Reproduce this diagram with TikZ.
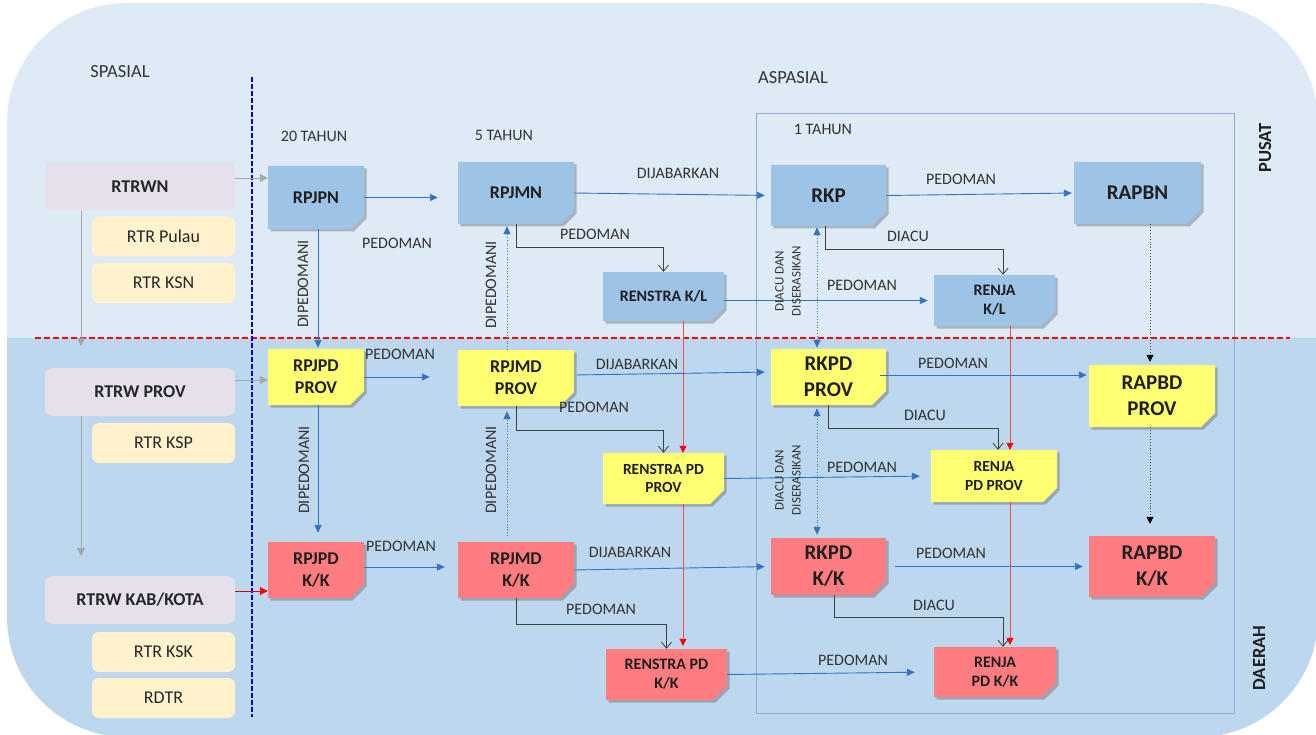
\documentclass[tikz,border=0pt]{standalone}
\usepackage{fontspec}
\setmainfont{Carlito}
\usetikzlibrary{arrows.meta,shapes.misc,shadows,calc}

\definecolor{bgtop}{HTML}{DEEBF7}
\definecolor{bgbot}{HTML}{BDD7EE}
\definecolor{boxblue}{HTML}{9DC3E6}
\definecolor{boxyel}{HTML}{FFFF71}
\definecolor{boxred}{HTML}{FF7C80}
\definecolor{lavc}{HTML}{E5E0EC}
\definecolor{creamc}{HTML}{FFF2CC}
\definecolor{arrblue}{HTML}{2F73C4}
\definecolor{arrgray}{HTML}{A6A6A6}
\definecolor{elbowc}{HTML}{404040}
\definecolor{framec}{HTML}{8EAADB}
\definecolor{txtgray}{HTML}{333333}
\definecolor{vdash}{HTML}{0000CC}

\newcommand\fntLbl{\fontsize{16}{19}\selectfont}
\newcommand\fntHead{\fontsize{18.5}{22}\selectfont}
\newcommand\fntSmall{\fontsize{13}{17}\selectfont}
\newcommand\fntBoxA{\fontsize{18}{22}\selectfont\bfseries}
\newcommand\fntBoxB{\fontsize{21}{26}\selectfont\bfseries}
\newcommand\fntBoxC{\fontsize{16}{19}\selectfont\bfseries}
\newcommand\fntBoxD{\fontsize{15.5}{18.5}\selectfont\bfseries}
\newcommand\fntLeft{\fontsize{18}{22}\selectfont}

\begin{document}
\begin{tikzpicture}[x=1pt,y=-1pt,
  lbl/.style={text=txtgray, font=\fntLbl, inner sep=0pt},
  head/.style={text=txtgray, font=\fntHead, inner sep=0pt},
  note/.style={chamfered rectangle, chamfered rectangle corners=south east,
    chamfered rectangle xsep=7pt, chamfered rectangle ysep=7pt,
    inner sep=0pt, align=center, text=black!88,
    drop shadow={shadow xshift=2.5pt, shadow yshift=-2.5pt, opacity=0.35, fill=black!70},
    path picture={\fill[black, opacity=.22]
      ([xshift=-7pt]path picture bounding box.south east) --
      ([yshift=7pt]path picture bounding box.south east) --
      ([xshift=-6pt, yshift=6pt]path picture bounding box.south east) -- cycle;}},
  bluebox/.style={note, fill=boxblue},
  yelbox/.style={note, fill=boxyel},
  redbox/.style={note, fill=boxred},
  leftbox/.style={rounded corners=7pt, inner sep=0pt, align=center, text=black!85},
  lavbox/.style={leftbox, fill=lavc, minimum width=190pt, minimum height=48pt, font=\fntBoxA},
  creambox/.style={leftbox, fill=creamc, minimum width=143pt, minimum height=40pt, font=\fntLeft},
  barr/.style={draw=arrblue, line width=0.9pt, -{Triangle[length=8pt,width=7pt]}},
  dbarr/.style={draw=arrblue, line width=0.8pt, dotted, -{Triangle[length=8pt,width=7pt]}},
  ddbarr/.style={draw=arrblue, line width=0.8pt, dotted, {Triangle[length=8pt,width=7pt]}-{Triangle[length=8pt,width=7pt]}},
  elbow/.style={draw=elbowc, line width=0.8pt, -{Straight Barb[length=6pt,width=10pt]}},
  rarr/.style={draw=red!70, line width=0.7pt, -{Triangle[length=7pt,width=7pt,color=red]}},
  garr/.style={draw=arrgray, line width=0.9pt, -{Triangle[length=8pt,width=8pt]}},
  rharr/.style={draw=red!85!black, line width=0.9pt, -{Triangle[length=8pt,width=8pt,color=red]}},
  karr/.style={draw=black!75, line width=0.9pt, dotted, -{Triangle[length=7pt,width=7pt,color=black]}}
]
\useasboundingbox (0,0) rectangle (1316,735);

% background
\begin{scope}
\clip[rounded corners=120pt] (7,3) rectangle (1318,737);
\fill[bgtop] (0,0) rectangle (1320,338);
\fill[bgbot] (0,338) rectangle (1320,740);
\end{scope}

% 1 TAHUN frame
\draw[framec, line width=0.8pt] (756,113) rectangle (1234,713);

% separators
\draw[red, line width=1.3pt, dash pattern=on 6pt off 3pt] (35,338) -- (1290,338);
\draw[vdash, line width=1.3pt, dash pattern=on 5pt off 2pt] (252,77) -- (252,717);

% headings
\node[head] (tspasial) at (120,72) {SPASIAL};
\node[head] (taspasial) at (793,78) {ASPASIAL};
\node[lbl] (t20) at (314,136) {20 TAHUN};
\node[lbl] (t5) at (504,135) {5 TAHUN};
\node[lbl] (t1) at (823,129) {1 TAHUN};
\node[head, font=\fntHead\bfseries, text=black!88, rotate=90] (tpusat) at (1265,148) {PUSAT};
\node[head, font=\fntHead\bfseries, text=black!88, rotate=90] (tdaerah) at (1259,658) {DAERAH};

% left column
\node[lavbox] (rtrwn) at (140,186.5) {RTRWN};
\node[creambox] (rtrpulau) at (163.5,236.5) {RTR Pulau};
\node[creambox] (rtrksn) at (163.5,283) {RTR KSN};
\node[lavbox] (rtrwprov) at (140,392) {RTRW PROV};
\node[creambox] (rtrksp) at (163.5,443) {RTR KSP};
\node[lavbox] (rtrwkab) at (140,600) {RTRW KAB/KOTA};
\node[creambox] (rtrksk) at (163.5,652) {RTR KSK};
\node[creambox] (rdtr) at (163.5,698) {RDTR};

% 20 tahun
\node[bluebox, minimum width=96pt, minimum height=63pt, font=\fntBoxA] (rpjpn) at (316,197.5) {RPJPN};
\node[yelbox, minimum width=96pt, minimum height=56pt, font=\fntBoxA] (rpjpdprov) at (316,377) {RPJPD\\PROV};
\node[redbox, minimum width=96pt, minimum height=56pt, font=\fntBoxA] (rpjpdkk) at (316,570) {RPJPD\\K/K};

% 5 tahun
\node[bluebox, minimum width=116pt, minimum height=62pt, font=\fntBoxA] (rpjmn) at (516,193) {RPJMN};
\node[yelbox, minimum width=116pt, minimum height=56pt, font=\fntBoxA] (rpjmdprov) at (516,378) {RPJMD\\PROV};
\node[redbox, minimum width=116pt, minimum height=56pt, font=\fntBoxA] (rpjmdkk) at (516,570) {RPJMD\\K/K};
\node[bluebox, minimum width=121pt, minimum height=49pt, font=\fntBoxC] (renkl) at (663.5,296.5) {RENSTRA K/L};
\node[yelbox, minimum width=121pt, minimum height=51pt, font=\fntBoxD] (renpdprov) at (663.5,478.5) {RENSTRA PD\\PROV};
\node[redbox, minimum width=121pt, minimum height=51pt, font=\fntBoxC] (renpdkk) at (666.5,674.5) {RENSTRA PD\\K/K};

% 1 tahun
\node[bluebox, minimum width=115pt, minimum height=61pt, font=\fntBoxB] (rkp) at (828.5,195.5) {RKP};
\node[yelbox, minimum width=115pt, minimum height=56pt, font=\fntBoxB] (rkpdprov) at (828.5,377) {RKPD\\PROV};
\node[redbox, minimum width=115pt, minimum height=57pt, font=\fntBoxB] (rkpdkk) at (828.5,566.5) {RKPD\\K/K};
\node[bluebox, minimum width=121pt, minimum height=51pt, font=\fntBoxC] (renjakl) at (994.5,300.5) {RENJA\\K/L};
\node[yelbox, minimum width=126pt, minimum height=52pt, font=\fntBoxD] (renjapdprov) at (994,476) {RENJA\\PD PROV};
\node[redbox, minimum width=122pt, minimum height=50pt, font=\fntBoxC] (renjapdkk) at (995,672) {RENJA\\PD K/K};
\node[bluebox, minimum width=127pt, minimum height=62pt, font=\fntBoxB] (rapbn) at (1137.5,193) {RAPBN};
\node[yelbox, minimum width=126pt, minimum height=62pt, font=\fntBoxB] (rapbdprov) at (1152,396) {RAPBD\\PROV};
\node[redbox, minimum width=126pt, minimum height=61pt, font=\fntBoxB] (rapbdkk) at (1152,566.5) {RAPBD\\K/K};

% helper coordinates
\coordinate (g1) at ($(rtrwn.east)+(0,-8.5)$);
\coordinate (g2) at ($(rtrwprov.east)+(0,-12)$);
\coordinate (g3) at ($(rtrwkab.east)+(0,-9)$);
\coordinate (gv1) at ($(rtrwn.south)+(-59,0)$);
\coordinate (gv2) at ($(rtrwprov.south)+(-59,0)$);
\coordinate (b1) at ($(rpjpn.south)+(2,0)$);
\coordinate (b2) at ($(rpjpdprov.south)+(2,0)$);
\coordinate (b3) at ($(rpjpdkk.east)+(0,-3)$);
\coordinate (b4) at ($(rkpdprov.east)+(0,-2)$);
\coordinate (b5) at ($(renkl.east)+(0,4)$);
\coordinate (d1) at ($(rpjmdprov.north)+(-9,0)$);
\coordinate (d2) at ($(rpjmdkk.north)+(-9,0)$);
\coordinate (d3) at ($(rkp.south)+(-11.5,0)$);
\coordinate (d4) at ($(rkpdprov.south)+(-11.5,0)$);
\coordinate (k1) at ($(rapbn.south)+(12.5,0)$);
\coordinate (k2) at ($(rapbdprov.south)+(-2,0)$);
\coordinate (r1) at ($(renkl.south)+(19.5,0)$);
\coordinate (r2) at ($(renpdprov.south)+(19.5,0)$);
\coordinate (r3) at ($(renjakl.south)+(15.5,0)$);
\coordinate (r4) at ($(renjapdprov.south)+(16,0)$);

% spatial connectors
\draw[garr] (g1) -- (g1 -| rpjpn.west);
\draw[garr] (g2) -- (g2 -| rpjpdprov.west);
\draw[rharr] (g3) -- (g3 -| rpjpdkk.west);
\draw[garr, shorten >=22pt] (gv1) -- (gv1 |- rtrwprov.north);
\draw[garr, shorten >=20pt] (gv2) -- (gv2 |- rtrwkab.north);

% vertical blue
\draw[barr, shorten >=1pt] (b1) -- (b1 |- rpjpdprov.north);
\draw[barr, shorten >=9pt] (b2) -- (b2 |- rpjpdkk.north);
\draw[dbarr, shorten >=2pt] (d1) -- (d1 |- rpjmn.south);
\draw[dbarr, shorten <=6pt, shorten >=5pt] (d2) -- (d2 |- rpjmdprov.south);
\draw[ddbarr, shorten <=1pt, shorten >=1pt] (d3) -- (d3 |- rkpdprov.north);
\draw[ddbarr, shorten <=3pt, shorten >=3pt] (d4) -- (d4 |- rkpdkk.north);

% horizontal blue
\draw[barr, shorten >=20pt] (rpjpn.east) -- (rpjpn.east -| rpjmn.west);
\draw[barr, shorten >=28pt] (rpjpdprov.east) -- (rpjpdprov.east -| rpjmdprov.west);
\draw[barr, shorten >=13pt] (b3) -- (b3 -| rpjmdkk.west);
\draw[barr, shorten >=6pt] (rpjmn.east) -- (rkp.west);
\draw[barr, shorten <=3pt, shorten >=6pt] ($(rpjmdprov.east)+(0,-3)$) -- ($(rkpdprov.west)+(0,-5)$);
\draw[barr, shorten >=6pt] (rpjmdkk.east) -- (rkpdkk.west);
\draw[barr, shorten >=2pt] (rkp.east) -- (rapbn.west);
\draw[barr, shorten <=-6pt, shorten >=2pt] (b4) -- (b4 -| rapbdprov.west);
\draw[barr, shorten <=9pt, shorten >=6pt] (rkpdkk.east) -- (rapbdkk.west);
\draw[barr, shorten >=6pt] (b5) -- (b5 -| renjakl.west);
\draw[barr, shorten >=11pt] (renpdprov.east) -- (renjapdprov.west);
\draw[barr, shorten >=19pt] (renpdkk.east) -- (renjapdkk.west);

% elbows
\draw[elbow] (rpjmn.south) -- ++(0,23) -| (renkl.north);
\draw[elbow] (rpjmdprov.south) -- ++(0,24) -| (renpdprov.north);
\draw[elbow] (rpjmdkk.south) -- ++(0,26) -| (renpdkk.north);
\draw[elbow] ($(rkp.south)+(-3.5,0)$) -- ++(0,23) -| ($(renjakl.north)+(8.5,0)$);
\draw[elbow] (rkpdprov.south) -- ++(0,23) -| ($(renjapdprov.north)+(4,0)$);
\draw[elbow] ($(rkpdkk.south)+(5.5,0)$) -- ++(0,22) -| ($(renjapdkk.north)+(8,0)$);

% red
\draw[rarr] (r1) -- (r1 |- renpdprov.north);
\draw[rarr, shorten >=3pt] (r2) -- (r2 |- renpdkk.north);
\draw[rarr] (r3) -- (r3 |- renjapdprov.north);
\draw[rarr, shorten >=2pt] (r4) -- (r4 |- renjapdkk.north);

% black dotted
\draw[karr, shorten >=3pt] (k1) -- (k1 |- rapbdprov.north);
\draw[karr, shorten >=12pt] (k2) -- (k2 |- rapbdkk.north);

% labels
\node[lbl] (l1) at (397,243) {PEDOMAN};
\node[lbl] (l2) at (400,354) {PEDOMAN};
\node[lbl] (l3) at (401,546) {PEDOMAN};
\node[lbl, rotate=90] (l4) at (303,284) {DIPEDOMANI};
\node[lbl, rotate=90] (l5) at (304,470) {DIPEDOMANI};
\node[lbl, rotate=90] (l6) at (491,285) {DIPEDOMANI};
\node[lbl, rotate=90] (l7) at (491,470) {DIPEDOMANI};
\node[lbl] (l8) at (678,173) {DIJABARKAN};
\node[lbl] (l9) at (637,364) {DIJABARKAN};
\node[lbl] (l10) at (630,552) {DIJABARKAN};
\node[lbl] (l11) at (595,234) {PEDOMAN};
\node[lbl] (l12) at (594,407) {PEDOMAN};
\node[lbl] (l13) at (601,609) {PEDOMAN};
\node[lbl] (l14) at (862,285) {PEDOMAN};
\node[lbl] (l15) at (862,467) {PEDOMAN};
\node[lbl] (l16) at (853,660) {PEDOMAN};
\node[lbl] (l17) at (961,179) {PEDOMAN};
\node[lbl] (l18) at (908,236) {DIACU};
\node[lbl] (l19) at (953,363) {PEDOMAN};
\node[lbl] (l20) at (925,415) {DIACU};
\node[lbl] (l21) at (951,553) {PEDOMAN};
\node[lbl] (l22) at (934,605) {DIACU};
\node[lbl, font=\fntSmall, align=center, rotate=90] (l23) at (788,281) {DIACU DAN\\DISERASIKAN};
\node[lbl, font=\fntSmall, align=center, rotate=90] (l24) at (788,480) {DIACU DAN\\DISERASIKAN};
\end{tikzpicture}
\end{document}
